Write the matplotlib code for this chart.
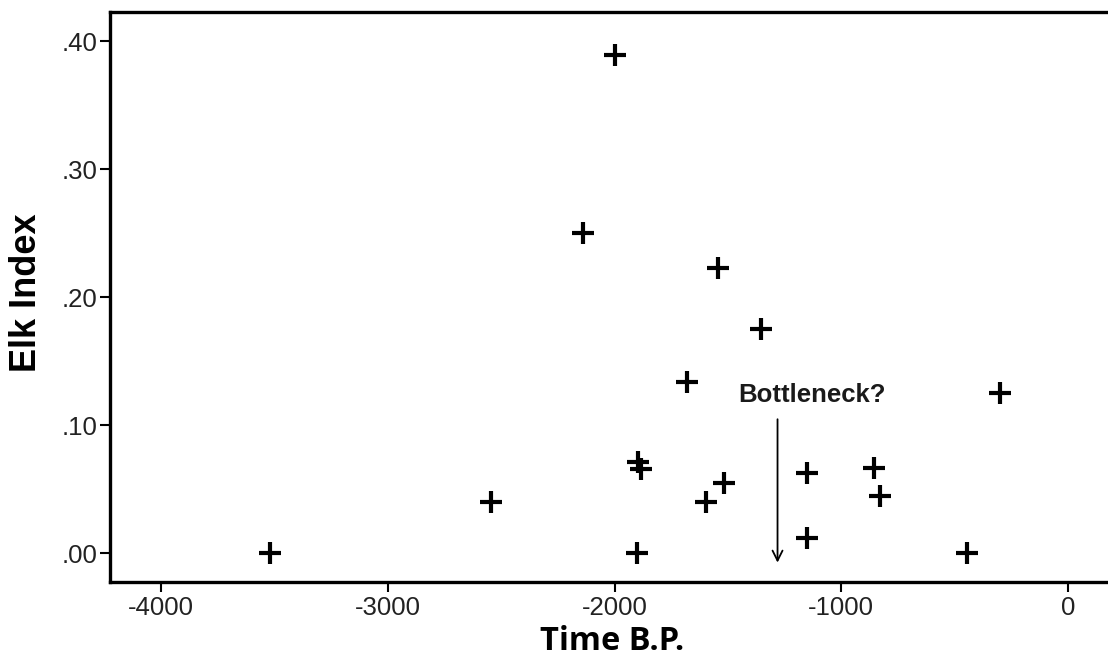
import matplotlib
matplotlib.use("Agg")
import matplotlib.pyplot as plt

# --- data ---
time_bp = [-3520, -2545, -2000, -2140, -1545, -1355, -1680, -1895, -1885, -1900,
           -1595, -1515, -1150, -1150, -855, -830, -445, -300]
elk_index = [0.000, 0.040, 0.389, 0.250, 0.223, 0.175, 0.134, 0.071, 0.066, 0.000,
             0.040, 0.055, 0.063, 0.012, 0.067, 0.045, 0.000, 0.125]

x_ticks = [-4000, -3000, -2000, -1000, 0]
x_tick_labels = ["-4000", "-3000", "-2000", "-1000", "0"]
y_ticks = [0.0, 0.1, 0.2, 0.3, 0.4]
y_tick_labels = [".00", ".10", ".20", ".30", ".40"]

bottleneck_x = -1281
bottleneck_label = "Bottleneck?"

plt.rcParams['font.family'] = ['Liberation Sans', 'DejaVu Sans']

fig = plt.figure(figsize=(11.08, 6.65), dpi=100)
ax = fig.add_axes([0.0993, 0.1253, 0.9055, 0.8567])

ax.plot(time_bp, elk_index, linestyle='none', marker='+', markersize=16,
        markeredgewidth=3.0, color='black')

# arrow + label
ax.annotate('', xy=(bottleneck_x, -0.0073), xytext=(bottleneck_x, 0.1047),
            arrowprops=dict(arrowstyle='->', color='black', lw=1.3,
                            mutation_scale=18, shrinkA=0, shrinkB=0))
ax.text(-1130, 0.1237, bottleneck_label, ha='center', va='center',
        fontsize=18.5, fontweight='bold', color='#1a1a1a')

ax.set_xlim(-4225, 200)
ax.set_ylim(-0.0222, 0.4229)
ax.set_xticks(x_ticks)
ax.set_xticklabels(x_tick_labels)
ax.set_yticks(y_ticks)
ax.set_yticklabels(y_tick_labels)
ax.tick_params(axis='both', labelsize=18.5, length=7, width=1.5, colors='black',
               labelcolor='#222222')
ax.tick_params(axis='x', pad=3)
ax.tick_params(axis='y', pad=2)

for side in ['left', 'bottom', 'top']:
    ax.spines[side].set_linewidth(2.4)
ax.spines['right'].set_visible(False)

ax.set_xlabel('Time B.P.', family=['Open Sans', 'DejaVu Sans'], fontweight='bold',
              fontsize=23.5, labelpad=4)
fig.text(0.024, 0.56, 'Elk Index', rotation=90, ha='center', va='center',
         fontsize=26, fontweight='bold')

fig.savefig('out.png', dpi=100)
